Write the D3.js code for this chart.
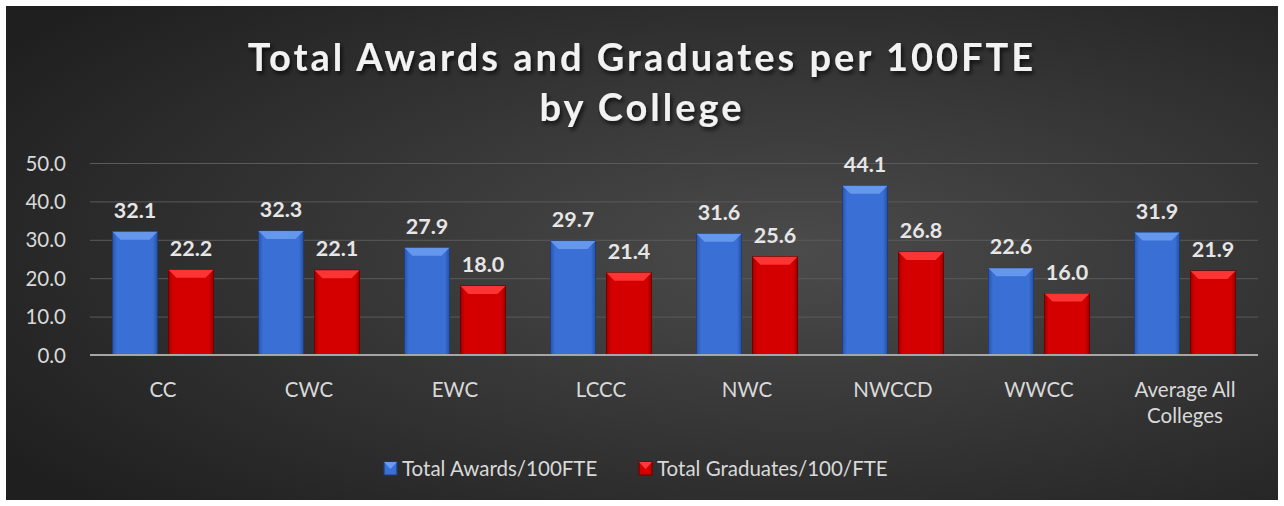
<!DOCTYPE html>
<html><head><meta charset="utf-8">
<script src="https://cdn.jsdelivr.net/npm/d3@7"></script>
<style>
html,body{margin:0;padding:0;background:#fff;}
svg{display:block;}
</style></head>
<body>
<svg id="chart" width="1284" height="506"></svg>
<script>
const categories = ["CC","CWC","EWC","LCCC","NWC","NWCCD","WWCC","Average All Colleges"];
const awards = [32.1,32.3,27.9,29.7,31.6,44.1,22.6,31.9];
const graduates = [22.2,22.1,18.0,21.4,25.6,26.8,16.0,21.9];
const seriesNames = ["Total Awards/100FTE","Total Graduates/100/FTE"];
const yTicks = [0,10,20,30,40,50];
const titleLines = ["Total Awards and Graduates per 100FTE","by College"];

const svg = d3.select("#chart");
const W = 1284, H = 506;
const font = "Lato, 'Open Sans', sans-serif";

const defs = svg.append("defs");
const bg = defs.append("radialGradient").attr("id","bg").attr("cx","0.62").attr("cy","0.5").attr("r","0.75");
bg.append("stop").attr("offset","0").attr("stop-color","#4b4b4b");
bg.append("stop").attr("offset","1").attr("stop-color","#1f1f1f");

function barGrad(id, c1, c2, c3){
  const g = defs.append("linearGradient").attr("id",id).attr("x1","0").attr("x2","1").attr("y1","0").attr("y2","0");
  g.append("stop").attr("offset","0").attr("stop-color",c1);
  g.append("stop").attr("offset","0.1").attr("stop-color",c2);
  g.append("stop").attr("offset","0.9").attr("stop-color",c2);
  g.append("stop").attr("offset","1").attr("stop-color",c3);
}
barGrad("gBlue","#2a55a8","#3a6fd6","#2650a0");
barGrad("gRed","#a00000","#d40000","#9a0000");
const sh = defs.append("filter").attr("id","tshadow").attr("x","-10%").attr("y","-30%").attr("width","120%").attr("height","160%");
sh.append("feDropShadow").attr("dx",2).attr("dy",3).attr("stdDeviation",2).attr("flood-color","#000").attr("flood-opacity",0.7);

svg.append("rect").attr("x",6).attr("y",6).attr("width",1272).attr("height",494).attr("fill","url(#bg)");

// title
svg.append("g").selectAll("text").data(titleLines).join("text")
  .attr("x",642).attr("y",(d,i)=>71+i*50)
  .attr("text-anchor","middle")
  .attr("font-family",font).attr("font-weight","bold").attr("font-size",38)
  .attr("letter-spacing",3)
  .attr("fill","#f2f2f2").attr("filter","url(#tshadow)")
  .text(d=>d);

const m = {left:90,right:1258,top:163,bottom:355};
const x = d3.scaleBand().domain(categories).range([m.left,m.right]).paddingInner(0).paddingOuter(0);
const y = d3.scaleLinear().domain([0,50]).range([m.bottom,m.top]);

// grid
const yAxis = d3.axisLeft(y).tickValues(yTicks).tickFormat(d3.format(".1f")).tickSize(-(m.right-m.left)).tickPadding(24);
const gy = svg.append("g").attr("transform",`translate(${m.left},0)`).call(yAxis);
gy.select(".domain").remove();
gy.selectAll(".tick line").attr("stroke","#5a5a5a").attr("stroke-width",1);
gy.selectAll(".tick text").attr("font-family",font).attr("font-size",20.5).attr("fill","#d9d9d9").attr("dy","0.35em");

const barW = 45, gap = 11;
const series = [
  {name:seriesNames[0], values:awards, fill:"url(#gBlue)", top:"#6a9bf0", edge:"#1d3f80", off:-(barW+gap/2)+0},
  {name:seriesNames[1], values:graduates, fill:"url(#gRed)", top:"#ff3a3a", edge:"#700000", off:gap/2}
];
series.forEach(s=>{
  const g = svg.append("g");
  categories.forEach((c,i)=>{
    const v = s.values[i];
    const cx = x(c)+x.bandwidth()/2;
    const x0 = cx + s.off, y0 = y(v), h = y(0)-y(v);
    g.append("rect").attr("x",x0).attr("y",y0).attr("width",barW).attr("height",h)
      .attr("fill",s.fill).attr("stroke",s.edge).attr("stroke-width",1);
    const b = 8;
    g.append("path").attr("d",`M${x0},${y0}L${x0+barW},${y0}L${x0+barW-b},${y0+b}L${x0+b},${y0+b}Z`)
      .attr("fill",s.top).attr("opacity",0.9);
    g.append("text").attr("x",cx + s.off + barW/2).attr("y",y0-14)
      .attr("text-anchor","middle").attr("font-family",font).attr("font-weight","bold")
      .attr("font-size",21.5).attr("fill","#e6e6e6").text(v.toFixed(1));
  });
});

// baseline
svg.append("line").attr("x1",m.left).attr("x2",m.right).attr("y1",y(0)).attr("y2",y(0))
  .attr("stroke","#a6a6a6").attr("stroke-width",2);

// category labels
const catLines = {"Average All Colleges":["Average All","Colleges"]};
const gx = svg.append("g");
categories.forEach(c=>{
  const lines = catLines[c] || [c];
  const t = gx.append("text").attr("text-anchor","middle").attr("font-family",font).attr("font-size",20.5).attr("fill","#d9d9d9");
  lines.forEach((l,i)=>t.append("tspan").attr("x",x(c)+x.bandwidth()/2).attr("y",397+i*26).text(l));
});

// legend
const leg = svg.append("g");
const legItems = [{name:seriesNames[0],fill:"url(#gBlue)",top:"#6a9bf0",edge:"#1d3f80",x:384},{name:seriesNames[1],fill:"url(#gRed)",top:"#ff3a3a",edge:"#700000",x:639}];
legItems.forEach(it=>{
  leg.append("rect").attr("x",it.x).attr("y",462).attr("width",13).attr("height",13).attr("fill",it.fill).attr("stroke",it.edge);
  leg.append("path").attr("d",`M${it.x},462L${it.x+13},462L${it.x+6.5},469Z`).attr("fill",it.top);
  leg.append("text").attr("x",it.x+18).attr("y",476).attr("font-family",font).attr("font-size",20.5).attr("fill","#d9d9d9").text(it.name);
});
</script>
</body></html>
